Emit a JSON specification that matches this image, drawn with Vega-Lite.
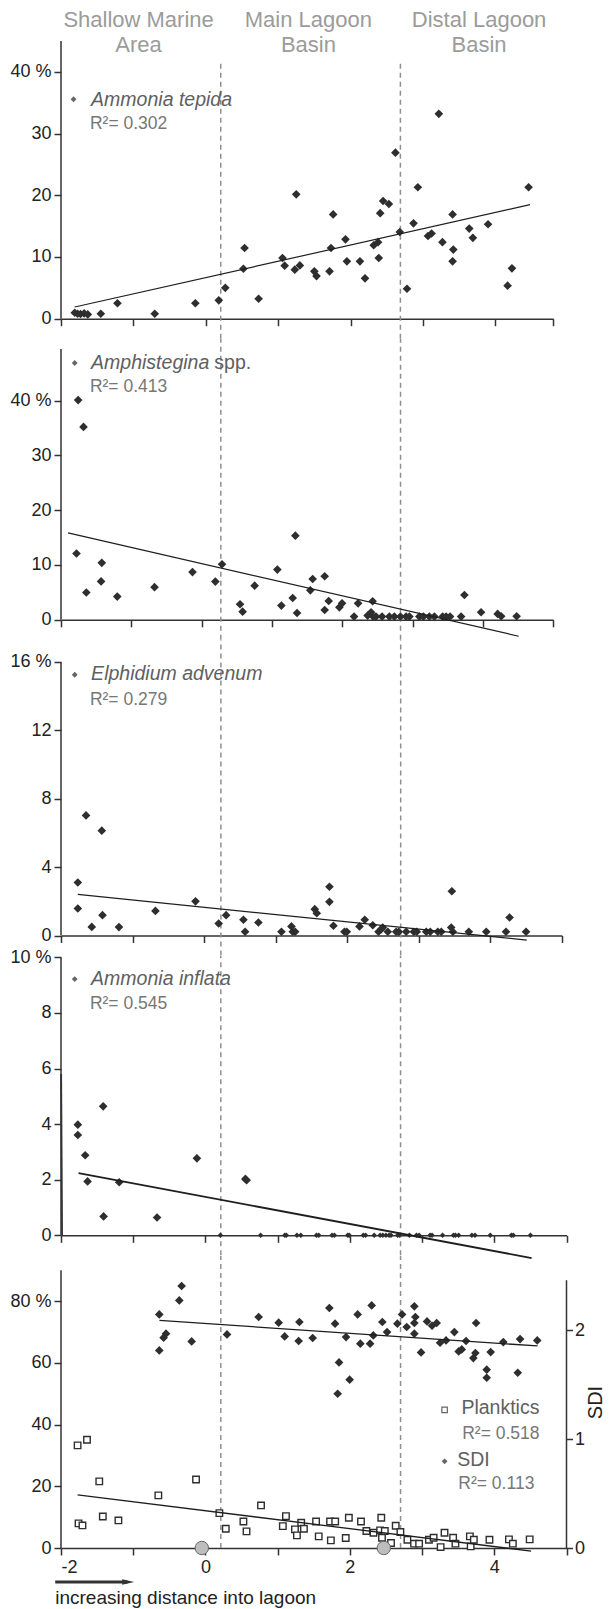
{
"$schema":"https://vega.github.io/schema/vega-lite/v6.json",
"background":"white",
"padding":{"left":9,"top":9,"right":0,"bottom":0},
"spacing":20,
"bounds":"flush",
"datasets":{
"tepida":[{"x":-1.81,"y":0.97},{"x":-1.77,"y":0.8},{"x":-1.73,"y":0.76},{"x":-1.68,"y":0.86},{"x":-1.63,"y":0.7},{"x":-1.45,"y":0.8},{"x":-1.22,"y":2.5},{"x":-0.705,"y":0.8},{"x":-0.144,"y":2.5},{"x":0.18,"y":2.97},{"x":0.27,"y":5.0},{"x":0.52,"y":8.1},{"x":0.536,"y":11.45},{"x":0.73,"y":3.24},{"x":1.06,"y":9.83},{"x":1.09,"y":8.6},{"x":1.23,"y":7.94},{"x":1.25,"y":20.15},{"x":1.3,"y":8.64},{"x":1.5,"y":7.67},{"x":1.53,"y":6.9},{"x":1.71,"y":7.67},{"x":1.73,"y":11.45},{"x":1.76,"y":16.9},{"x":1.93,"y":12.86},{"x":1.95,"y":9.29},{"x":2.13,"y":9.29},{"x":2.2,"y":6.54},{"x":2.32,"y":11.9},{"x":2.38,"y":12.4},{"x":2.39,"y":9.83},{"x":2.41,"y":17.1},{"x":2.45,"y":19.07},{"x":2.53,"y":18.58},{"x":2.62,"y":26.9},{"x":2.68,"y":14.05},{"x":2.78,"y":4.86},{"x":2.87,"y":15.45},{"x":2.93,"y":21.3},{"x":3.07,"y":13.4},{"x":3.12,"y":13.8},{"x":3.22,"y":33.2},{"x":3.27,"y":12.4},{"x":3.41,"y":16.9},{"x":3.42,"y":11.2},{"x":3.41,"y":9.29},{"x":3.64,"y":14.6},{"x":3.69,"y":13.1},{"x":3.9,"y":15.3},{"x":4.17,"y":5.35},{"x":4.23,"y":8.16},{"x":4.46,"y":21.3}],
"tepida_fit":[{"x":-1.81,"y":1.89},{"x":4.48,"y":18.48}],
"amph":[{"x":-1.756,"y":40.1},{"x":-1.68,"y":35.2},{"x":-1.78,"y":12.1},{"x":-1.64,"y":4.98},{"x":-1.42,"y":10.4},{"x":-1.43,"y":7.0},{"x":-1.2,"y":4.24},{"x":-0.67,"y":5.96},{"x":-0.13,"y":8.7},{"x":0.195,"y":6.97},{"x":0.29,"y":10.13},{"x":0.546,"y":2.83},{"x":0.583,"y":1.49},{"x":0.754,"y":6.23},{"x":1.077,"y":9.16},{"x":1.134,"y":2.59},{"x":1.295,"y":3.98},{"x":1.333,"y":15.36},{"x":1.357,"y":1.24},{"x":1.546,"y":5.38},{"x":1.579,"y":7.45},{"x":1.75,"y":7.94},{"x":1.75,"y":1.79},{"x":1.807,"y":3.43},{"x":1.959,"y":2.28},{"x":1.997,"y":3.01},{"x":2.168,"y":0.58},{"x":2.225,"y":3.01},{"x":2.361,"y":0.77},{"x":2.41,"y":1.37},{"x":2.432,"y":3.38},{"x":2.44,"y":0.58},{"x":2.48,"y":0.58},{"x":2.566,"y":0.58},{"x":2.67,"y":0.58},{"x":2.741,"y":0.58},{"x":2.827,"y":0.58},{"x":2.908,"y":0.58},{"x":2.955,"y":0.58},{"x":3.097,"y":0.58},{"x":3.154,"y":0.58},{"x":3.239,"y":0.58},{"x":3.31,"y":0.58},{"x":3.428,"y":0.58},{"x":3.477,"y":0.58},{"x":3.533,"y":0.58},{"x":3.69,"y":0.58},{"x":3.737,"y":4.53},{"x":3.974,"y":1.37},{"x":4.21,"y":1.07},{"x":4.26,"y":0.64},{"x":4.48,"y":0.64}],
"amph_fit":[{"x":-1.9,"y":15.85},{"x":4.51,"y":-3.0}],
"elph":[{"x":-1.765,"y":3.1},{"x":-1.765,"y":1.58},{"x":-1.65,"y":7.02},{"x":-1.57,"y":0.5},{"x":-1.43,"y":6.13},{"x":-1.42,"y":1.19},{"x":-1.19,"y":0.49},{"x":-0.68,"y":1.44},{"x":-0.12,"y":2.0},{"x":0.204,"y":0.7},{"x":0.308,"y":1.19},{"x":0.55,"y":0.92},{"x":0.573,"y":0.22},{"x":0.759,"y":0.76},{"x":1.081,"y":0.22},{"x":1.221,"y":0.53},{"x":1.239,"y":0.22},{"x":1.273,"y":0.22},{"x":1.547,"y":1.54},{"x":1.575,"y":1.3},{"x":1.752,"y":2.85},{"x":1.752,"y":1.97},{"x":1.808,"y":0.57},{"x":1.962,"y":0.22},{"x":1.995,"y":0.22},{"x":2.172,"y":0.53},{"x":2.246,"y":0.92},{"x":2.358,"y":0.6},{"x":2.438,"y":0.22},{"x":2.476,"y":0.37},{"x":2.498,"y":0.47},{"x":2.568,"y":0.22},{"x":2.685,"y":0.22},{"x":2.722,"y":0.22},{"x":2.825,"y":0.22},{"x":2.931,"y":0.22},{"x":2.973,"y":0.22},{"x":3.105,"y":0.22},{"x":3.161,"y":0.22},{"x":3.267,"y":0.22},{"x":3.315,"y":0.22},{"x":3.463,"y":2.59},{"x":3.454,"y":0.47},{"x":3.477,"y":0.22},{"x":3.7,"y":0.22},{"x":3.944,"y":0.22},{"x":4.22,"y":0.22},{"x":4.27,"y":1.05},{"x":4.5,"y":0.22}],
"elph_fit":[{"x":-1.765,"y":2.4},{"x":4.51,"y":-0.27}],
"infl":[{"x":-1.767,"y":3.98},{"x":-1.767,"y":3.61},{"x":-1.665,"y":2.88},{"x":-1.632,"y":1.94},{"x":-1.416,"y":4.64},{"x":-1.41,"y":0.68},{"x":-1.194,"y":1.91},{"x":-0.67,"y":0.64},{"x":-0.118,"y":2.77},{"x":0.553,"y":2.03},{"x":0.57,"y":1.98},{"x":0.207,"y":0},{"x":0.764,"y":0},{"x":1.099,"y":0},{"x":1.12,"y":0},{"x":1.267,"y":0},{"x":1.321,"y":0},{"x":1.537,"y":0},{"x":1.569,"y":0},{"x":1.753,"y":0},{"x":1.786,"y":0},{"x":1.97,"y":0},{"x":1.991,"y":0},{"x":2.186,"y":0},{"x":2.218,"y":0},{"x":2.337,"y":0},{"x":2.419,"y":0},{"x":2.456,"y":0},{"x":2.5,"y":0},{"x":2.543,"y":0},{"x":2.57,"y":0},{"x":2.662,"y":0},{"x":2.689,"y":0},{"x":2.824,"y":0},{"x":2.922,"y":0},{"x":2.959,"y":0},{"x":3.111,"y":0},{"x":3.138,"y":0},{"x":3.284,"y":0},{"x":3.435,"y":0},{"x":3.462,"y":0},{"x":3.506,"y":0},{"x":3.69,"y":0},{"x":3.733,"y":0},{"x":3.944,"y":0},{"x":4.236,"y":0},{"x":4.263,"y":0},{"x":4.501,"y":0}],
"infl_fit":[{"x":-1.757,"y":2.24},{"x":4.517,"y":-0.82}],
"plank":[{"x":-1.77,"y":33.26},{"x":-1.64,"y":35.1},{"x":-1.47,"y":21.6},{"x":-1.757,"y":7.97},{"x":-1.703,"y":7.32},{"x":-1.421,"y":10.2},{"x":-1.205,"y":8.94},{"x":-0.652,"y":17.05},{"x":-0.13,"y":22.2},{"x":0.193,"y":11.3},{"x":0.282,"y":6.24},{"x":0.526,"y":8.61},{"x":0.569,"y":5.38},{"x":0.77,"y":13.8},{"x":1.072,"y":7.1},{"x":1.115,"y":10.34},{"x":1.24,"y":6.03},{"x":1.267,"y":4.09},{"x":1.326,"y":8.18},{"x":1.364,"y":6.24},{"x":1.532,"y":8.61},{"x":1.569,"y":3.77},{"x":1.737,"y":2.48},{"x":1.726,"y":8.61},{"x":1.797,"y":8.61},{"x":1.943,"y":3.23},{"x":1.986,"y":9.8},{"x":2.154,"y":8.61},{"x":2.229,"y":5.49},{"x":2.327,"y":4.95},{"x":2.419,"y":5.71},{"x":2.435,"y":9.8},{"x":2.445,"y":3.34},{"x":2.484,"y":5.49},{"x":2.57,"y":1.62},{"x":2.635,"y":7.21},{"x":2.7,"y":5.17},{"x":2.797,"y":2.69},{"x":2.889,"y":1.4},{"x":2.959,"y":1.4},{"x":3.095,"y":2.69},{"x":3.16,"y":3.34},{"x":3.257,"y":0.3},{"x":3.311,"y":4.95},{"x":3.43,"y":3.34},{"x":3.462,"y":1.4},{"x":3.662,"y":3.77},{"x":3.673,"y":0.54},{"x":3.717,"y":2.69},{"x":3.933,"y":2.69},{"x":4.203,"y":2.8},{"x":4.257,"y":1.4},{"x":4.49,"y":2.8}],
"plank_fit":[{"x":-1.77,"y":17.2},{"x":4.51,"y":-1.0}],
"sdi":[{"x":-0.639,"y":2.147},{"x":-0.639,"y":1.816},{"x":-0.579,"y":1.933},{"x":-0.546,"y":1.97},{"x":-0.362,"y":2.276},{"x":-0.33,"y":2.408},{"x":-0.191,"y":1.899},{"x":0.299,"y":1.963},{"x":0.737,"y":2.123},{"x":1.014,"y":2.071},{"x":1.097,"y":1.945},{"x":1.291,"y":1.903},{"x":1.301,"y":2.077},{"x":1.485,"y":1.93},{"x":1.716,"y":2.206},{"x":1.795,"y":2.062},{"x":1.831,"y":1.418},{"x":1.85,"y":1.706},{"x":1.947,"y":1.939},{"x":1.997,"y":1.547},{"x":2.108,"y":2.147},{"x":2.145,"y":1.878},{"x":2.28,"y":1.878},{"x":2.302,"y":2.23},{"x":2.325,"y":1.954},{"x":2.45,"y":2.077},{"x":2.515,"y":1.985},{"x":2.658,"y":2.062},{"x":2.723,"y":2.147},{"x":2.787,"y":2.031},{"x":2.893,"y":2.221},{"x":2.907,"y":2.123},{"x":2.893,"y":2.068},{"x":2.893,"y":1.97},{"x":2.986,"y":1.798},{"x":3.069,"y":2.083},{"x":3.138,"y":2.043},{"x":3.202,"y":2.068},{"x":3.249,"y":1.887},{"x":3.332,"y":1.908},{"x":3.447,"y":1.985},{"x":3.507,"y":1.807},{"x":3.549,"y":1.825},{"x":3.609,"y":1.903},{"x":3.71,"y":1.746},{"x":3.738,"y":1.792},{"x":3.748,"y":2.068},{"x":3.895,"y":1.639},{"x":3.895,"y":1.565},{"x":3.95,"y":1.801},{"x":4.125,"y":1.893},{"x":4.325,"y":1.611},{"x":4.357,"y":1.92},{"x":4.595,"y":1.908}],
"sdi_fit":[{"x":-0.637,"y":2.092},{"x":4.598,"y":1.857}],
"stations":[{"x":-0.05,"y":0},{"x":2.47,"y":0}]
},
"vconcat":[
{"width":492.2,"height":277.7,"layer":[
 {"data":{"values":[{}]},"mark":{"type":"rule","strokeDash":[5,4],"color":"#8f8f8f","strokeWidth":1.5},"encoding":{"x":{"datum":0.207},"y":{"datum":-3.24},"y2":{"datum":41.4}}},
 {"data":{"values":[{}]},"mark":{"type":"rule","strokeDash":[5,4],"color":"#8f8f8f","strokeWidth":1.5},"encoding":{"x":{"datum":2.689},"y":{"datum":-3.24},"y2":{"datum":41.4}}},
 {"data":{"values":[{}]},"mark":{"type":"rule","color":"#333","strokeWidth":1.5},"encoding":{"x":{"datum":-2},"y":{"datum":0},"y2":{"datum":45}}},
 {"data":{"name":"tepida"},"mark":{"type":"point","shape":"diamond","filled":true,"color":"#2e2e2e","size":75,"opacity":1},"encoding":{"x":{"field":"x","type":"quantitative","scale":{"domain":[-2,4.8],"nice":false,"zero":false},"axis":{"title":null,"values":[-2,-1,0,1,2,3,4,4.8],"labels":false}},"y":{"field":"y","type":"quantitative","scale":{"domain":[0,45],"nice":false},"axis":{"title":null,"domain":false,"values":[0,10,20,30,40],"labelExpr":"datum.value == 40 ? '40 %' : datum.label"}}}},
 {"data":{"name":"tepida_fit"},"mark":{"type":"line","color":"#1e1e1e","strokeWidth":1.2},"encoding":{"x":{"field":"x","type":"quantitative"},"y":{"field":"y","type":"quantitative"}}},
 {"data":{"values":[{}]},"mark":{"type":"point","shape":"diamond","filled":true,"color":"#666","size":34,"opacity":1},"encoding":{"x":{"datum":-1.827},"y":{"datum":35.56}}},
 {"data":{"values":[{}]},"mark":{"type":"text","text":"Ammonia tepida","align":"left","baseline":"middle","fontSize":19.5,"fontStyle":"italic","color":"#606060"},"encoding":{"x":{"datum":-1.584},"y":{"datum":35.4}}},
 {"data":{"values":[{}]},"mark":{"type":"text","text":"R²= 0.302","align":"left","baseline":"middle","fontSize":17.5,"color":"#777"},"encoding":{"x":{"datum":-1.6},"y":{"datum":31.6}}},
 {"data":{"values":[{}]},"mark":{"type":"text","text":"Shallow Marine","align":"center","baseline":"middle","fontSize":22,"color":"#9b9b9b"},"encoding":{"x":{"datum":-0.928},"y":{"datum":48.4}}},
 {"data":{"values":[{}]},"mark":{"type":"text","text":"Area","align":"center","baseline":"middle","fontSize":22,"color":"#9b9b9b"},"encoding":{"x":{"datum":-0.928},"y":{"datum":44.35}}},
 {"data":{"values":[{}]},"mark":{"type":"text","text":"Main Lagoon","align":"center","baseline":"middle","fontSize":22,"color":"#9b9b9b"},"encoding":{"x":{"datum":1.418},"y":{"datum":48.4}}},
 {"data":{"values":[{}]},"mark":{"type":"text","text":"Basin","align":"center","baseline":"middle","fontSize":22,"color":"#9b9b9b"},"encoding":{"x":{"datum":1.418},"y":{"datum":44.35}}},
 {"data":{"values":[{}]},"mark":{"type":"text","text":"Distal Lagoon","align":"center","baseline":"middle","fontSize":22,"color":"#9b9b9b"},"encoding":{"x":{"datum":3.776},"y":{"datum":48.4}}},
 {"data":{"values":[{}]},"mark":{"type":"text","text":"Basin","align":"center","baseline":"middle","fontSize":22,"color":"#9b9b9b"},"encoding":{"x":{"datum":3.776},"y":{"datum":44.35}}}
]},
{"width":492.2,"height":280.8,"layer":[
 {"data":{"values":[{}]},"mark":{"type":"rule","strokeDash":[5,4],"color":"#8f8f8f","strokeWidth":1.5},"encoding":{"x":{"datum":0.273},"y":{"datum":-3.65},"y2":{"datum":51.24}}},
 {"data":{"values":[{}]},"mark":{"type":"rule","strokeDash":[5,4],"color":"#8f8f8f","strokeWidth":1.5},"encoding":{"x":{"datum":2.829},"y":{"datum":-3.65},"y2":{"datum":51.24}}},
 {"data":{"values":[{}]},"mark":{"type":"rule","color":"#333","strokeWidth":1.5},"encoding":{"x":{"datum":-2},"y":{"datum":0},"y2":{"datum":49.4}}},
 {"data":{"name":"amph"},"mark":{"type":"point","shape":"diamond","filled":true,"color":"#2e2e2e","size":75,"opacity":1},"encoding":{"x":{"field":"x","type":"quantitative","scale":{"domain":[-2,5],"nice":false,"zero":false},"axis":{"title":null,"values":[-2,-1,0,1,2,3,4,5],"labels":false}},"y":{"field":"y","type":"quantitative","scale":{"domain":[0,51.24],"nice":false},"axis":{"title":null,"domain":false,"values":[0,10,20,30,40],"labelExpr":"datum.value == 40 ? '40 %' : datum.label"}}}},
 {"data":{"name":"amph_fit"},"mark":{"type":"line","color":"#1e1e1e","strokeWidth":1.2},"encoding":{"x":{"field":"x","type":"quantitative"},"y":{"field":"y","type":"quantitative"}}},
 {"data":{"values":[{}]},"mark":{"type":"point","shape":"diamond","filled":true,"color":"#666","size":34,"opacity":1},"encoding":{"x":{"datum":-1.805},"y":{"datum":46.86}}},
 {"data":{"values":[{}]},"mark":{"type":"text","text":"Amphistegina","align":"left","baseline":"middle","fontSize":19.5,"fontStyle":"italic","color":"#606060"},"encoding":{"x":{"datum":-1.572},"y":{"datum":46.86}}},
 {"data":{"values":[{}]},"mark":{"type":"text","text":"spp.","align":"left","baseline":"middle","fontSize":19.5,"color":"#606060"},"encoding":{"x":{"datum":0.18},"y":{"datum":46.86}}},
 {"data":{"values":[{}]},"mark":{"type":"text","text":"R²= 0.413","align":"left","baseline":"middle","fontSize":17.5,"color":"#777"},"encoding":{"x":{"datum":-1.589},"y":{"datum":42.4}}}
]},
{"width":500.8,"height":295.5,"layer":[
 {"data":{"values":[{}]},"mark":{"type":"rule","strokeDash":[5,4],"color":"#8f8f8f","strokeWidth":1.5},"encoding":{"x":{"datum":0.235},"y":{"datum":-1.17},"y2":{"datum":17.28}}},
 {"data":{"values":[{}]},"mark":{"type":"rule","strokeDash":[5,4],"color":"#8f8f8f","strokeWidth":1.5},"encoding":{"x":{"datum":2.748},"y":{"datum":-1.17},"y2":{"datum":17.28}}},
 {"data":{"values":[{}]},"mark":{"type":"rule","color":"#333","strokeWidth":1.5},"encoding":{"x":{"datum":-2},"y":{"datum":0},"y2":{"datum":16}}},
 {"data":{"name":"elph"},"mark":{"type":"point","shape":"diamond","filled":true,"color":"#2e2e2e","size":75,"opacity":1},"encoding":{"x":{"field":"x","type":"quantitative","scale":{"domain":[-2,5],"nice":false,"zero":false},"axis":{"title":null,"values":[-2,-1,0,1,2,3,4,5],"labels":false}},"y":{"field":"y","type":"quantitative","scale":{"domain":[0,17.28],"nice":false},"axis":{"title":null,"domain":false,"values":[0,4,8,12,16],"labelExpr":"datum.value == 16 ? '16 %' : datum.label"}}}},
 {"data":{"name":"elph_fit"},"mark":{"type":"line","color":"#1e1e1e","strokeWidth":1.2},"encoding":{"x":{"field":"x","type":"quantitative"},"y":{"field":"y","type":"quantitative"}}},
 {"data":{"values":[{}]},"mark":{"type":"point","shape":"diamond","filled":true,"color":"#666","size":34,"opacity":1},"encoding":{"x":{"datum":-1.808},"y":{"datum":15.25}}},
 {"data":{"values":[{}]},"mark":{"type":"text","text":"Elphidium advenum","align":"left","baseline":"middle","fontSize":19.5,"fontStyle":"italic","color":"#606060"},"encoding":{"x":{"datum":-1.579},"y":{"datum":15.3}}},
 {"data":{"values":[{}]},"mark":{"type":"text","text":"R²= 0.279","align":"left","baseline":"middle","fontSize":17.5,"color":"#777"},"encoding":{"x":{"datum":-1.596},"y":{"datum":13.8}}}
]},
{"width":505.5,"height":279.3,"layer":[
 {"data":{"values":[{}]},"mark":{"type":"rule","strokeDash":[5,4],"color":"#8f8f8f","strokeWidth":1.5},"encoding":{"x":{"datum":0.213},"y":{"datum":-0.72},"y2":{"datum":10.05}}},
 {"data":{"values":[{}]},"mark":{"type":"rule","strokeDash":[5,4],"color":"#8f8f8f","strokeWidth":1.5},"encoding":{"x":{"datum":2.702},"y":{"datum":-0.72},"y2":{"datum":10.05}}},
 {"data":{"values":[{}]},"mark":{"type":"rule","color":"#333","strokeWidth":1.5},"encoding":{"x":{"datum":-2},"y":{"datum":0},"y2":{"datum":10}}},
 {"data":{"values":[{}]},"mark":{"type":"rule","color":"#333","strokeWidth":1.8},"encoding":{"x":{"datum":-1.985},"x2":{"datum":-1.998},"y":{"datum":0},"y2":{"datum":5.8}}},
 {"data":{"name":"infl"},"transform":[{"filter":"datum.y > 0"}],"mark":{"type":"point","shape":"diamond","filled":true,"color":"#2e2e2e","size":75,"opacity":1},"encoding":{"x":{"field":"x","type":"quantitative","scale":{"domain":[-2,5],"nice":false,"zero":false},"axis":{"title":null,"values":[-2,-1,0,1,2,3,4,5],"labels":false}},"y":{"field":"y","type":"quantitative","scale":{"domain":[0,10.05],"nice":false},"axis":{"title":null,"domain":false,"values":[0,2,4,6,8,10],"labelExpr":"datum.value == 10 ? '10 %' : datum.label"}}}},
 {"data":{"name":"infl"},"transform":[{"filter":"datum.y == 0"}],"mark":{"type":"point","shape":"diamond","filled":true,"color":"#2e2e2e","size":30,"opacity":1},"encoding":{"x":{"field":"x","type":"quantitative"},"y":{"field":"y","type":"quantitative"}}},
 {"data":{"name":"infl_fit"},"mark":{"type":"line","color":"#1e1e1e","strokeWidth":1.8},"encoding":{"x":{"field":"x","type":"quantitative"},"y":{"field":"y","type":"quantitative"}}},
 {"data":{"values":[{}]},"mark":{"type":"point","shape":"diamond","filled":true,"color":"#666","size":34,"opacity":1},"encoding":{"x":{"datum":-1.81},"y":{"datum":9.22}}},
 {"data":{"values":[{}]},"mark":{"type":"text","text":"Ammonia inflata","align":"left","baseline":"middle","fontSize":19.5,"fontStyle":"italic","color":"#606060"},"encoding":{"x":{"datum":-1.583},"y":{"datum":9.22}}},
 {"data":{"values":[{}]},"mark":{"type":"text","text":"R²= 0.545","align":"left","baseline":"middle","fontSize":17.5,"color":"#777"},"encoding":{"x":{"datum":-1.6},"y":{"datum":8.33}}}
]},
{"width":505.5,"height":292,"resolve":{"scale":{"y":"independent"}},"layer":[
 {"layer":[
  {"data":{"values":[{}]},"mark":{"type":"rule","strokeDash":[5,4],"color":"#8f8f8f","strokeWidth":1.5},"encoding":{"x":{"datum":0.213},"y":{"datum":0},"y2":{"datum":94.65}}},
  {"data":{"values":[{}]},"mark":{"type":"rule","strokeDash":[5,4],"color":"#8f8f8f","strokeWidth":1.5},"encoding":{"x":{"datum":2.702},"y":{"datum":0},"y2":{"datum":94.65}}},
  {"data":{"values":[{}]},"mark":{"type":"rule","color":"#333","strokeWidth":1.5},"encoding":{"x":{"datum":-2},"y":{"datum":0},"y2":{"datum":90}}},
  {"data":{"name":"plank"},"mark":{"type":"point","shape":"square","filled":false,"color":"#2e2e2e","strokeWidth":1.4,"size":42,"opacity":1,"fill":"white","fillOpacity":1},"encoding":{"x":{"field":"x","type":"quantitative","scale":{"domain":[-2,5],"nice":false,"zero":false},"axis":{"title":null,"values":[-2,-1,0,1,2,3,4,5],"labelExpr":"datum.value % 2 == 0 ? (datum.value < 0 ? '-' + abs(datum.value) : '' + datum.value) : ''","labelPadding":3}},"y":{"field":"y","type":"quantitative","scale":{"domain":[0,94.65],"nice":false},"axis":{"title":null,"domain":false,"values":[0,20,40,60,80],"labelExpr":"datum.value == 80 ? '80 %' : datum.label"}}}},
  {"data":{"name":"plank_fit"},"mark":{"type":"line","color":"#1e1e1e","strokeWidth":1.3},"encoding":{"x":{"field":"x","type":"quantitative"},"y":{"field":"y","type":"quantitative"}}},
  {"data":{"name":"stations"},"mark":{"type":"point","shape":"circle","filled":true,"color":"#bdbdbd","stroke":"#666","strokeWidth":1,"size":180,"opacity":1},"encoding":{"x":{"field":"x","type":"quantitative"},"y":{"field":"y","type":"quantitative"}}},
  {"data":{"values":[{}]},"mark":{"type":"point","shape":"square","filled":false,"color":"#666","strokeWidth":1.2,"size":30,"opacity":1},"encoding":{"x":{"datum":3.312},"y":{"datum":44.8}}},
  {"data":{"values":[{}]},"mark":{"type":"text","text":"Planktics","align":"left","baseline":"middle","fontSize":19.5,"color":"#606060"},"encoding":{"x":{"datum":3.545},"y":{"datum":45.4}}},
  {"data":{"values":[{}]},"mark":{"type":"text","text":"R²= 0.518","align":"left","baseline":"middle","fontSize":17.5,"color":"#777"},"encoding":{"x":{"datum":3.556},"y":{"datum":36.9}}},
  {"data":{"values":[{}]},"mark":{"type":"point","shape":"diamond","filled":true,"color":"#666","size":34,"opacity":1},"encoding":{"x":{"datum":3.312},"y":{"datum":28.1}}},
  {"data":{"values":[{}]},"mark":{"type":"text","text":"SDI","align":"left","baseline":"middle","fontSize":19.5,"color":"#606060"},"encoding":{"x":{"datum":3.486},"y":{"datum":28.4}}},
  {"data":{"values":[{}]},"mark":{"type":"text","text":"R²= 0.113","align":"left","baseline":"middle","fontSize":17.5,"color":"#777"},"encoding":{"x":{"datum":3.502},"y":{"datum":20.6}}},
  {"data":{"values":[{}]},"mark":{"type":"rule","color":"#333","strokeWidth":3},"encoding":{"x":{"datum":-2.08},"x2":{"datum":-1.08},"y":{"datum":-11.0}}},
  {"data":{"values":[{}]},"mark":{"type":"point","shape":"M -1 -0.45 L 1 0 L -1 0.45 Z","filled":true,"color":"#333","size":144,"opacity":1},"encoding":{"x":{"datum":-1.07},"y":{"datum":-11.0}}},
  {"data":{"values":[{}]},"mark":{"type":"text","text":"increasing distance into lagoon","align":"left","baseline":"middle","fontSize":19,"color":"#222"},"encoding":{"x":{"datum":-2.08},"y":{"datum":-16.3}}}
 ]},
 {"layer":[
  {"data":{"name":"sdi"},"mark":{"type":"point","shape":"diamond","filled":true,"color":"#2e2e2e","size":75,"opacity":1},"encoding":{"x":{"field":"x","type":"quantitative"},"y":{"field":"y","type":"quantitative","scale":{"domain":[0,2.684],"nice":false},"axis":{"title":"SDI","orient":"right","domain":false,"values":[0,1,2],"format":"d","tickSize":6,"labelPadding":2,"titleAngle":270,"titleBaseline":"top","titleFontSize":20,"titlePadding":1}}}},
  {"data":{"name":"sdi_fit"},"mark":{"type":"line","color":"#1e1e1e","strokeWidth":1.3},"encoding":{"x":{"field":"x","type":"quantitative"},"y":{"field":"y","type":"quantitative"}}},
  {"data":{"values":[{}]},"mark":{"type":"rule","color":"#333","strokeWidth":1.5},"encoding":{"x":{"datum":5},"y":{"datum":0},"y2":{"datum":2.46}}}
 ]}
]}
],
"config":{
 "font":"Liberation Sans",
 "view":{"stroke":null},
 "axis":{"labelFont":"Liberation Sans","labelFontSize":18,"labelColor":"#222","tickColor":"#333","tickWidth":1.5,"tickSize":7,"domainColor":"#333","domainWidth":1.5,"grid":false,"labelPadding":3,"titleFont":"Liberation Sans","titleFontWeight":"normal","titleColor":"#222"}
}
}
